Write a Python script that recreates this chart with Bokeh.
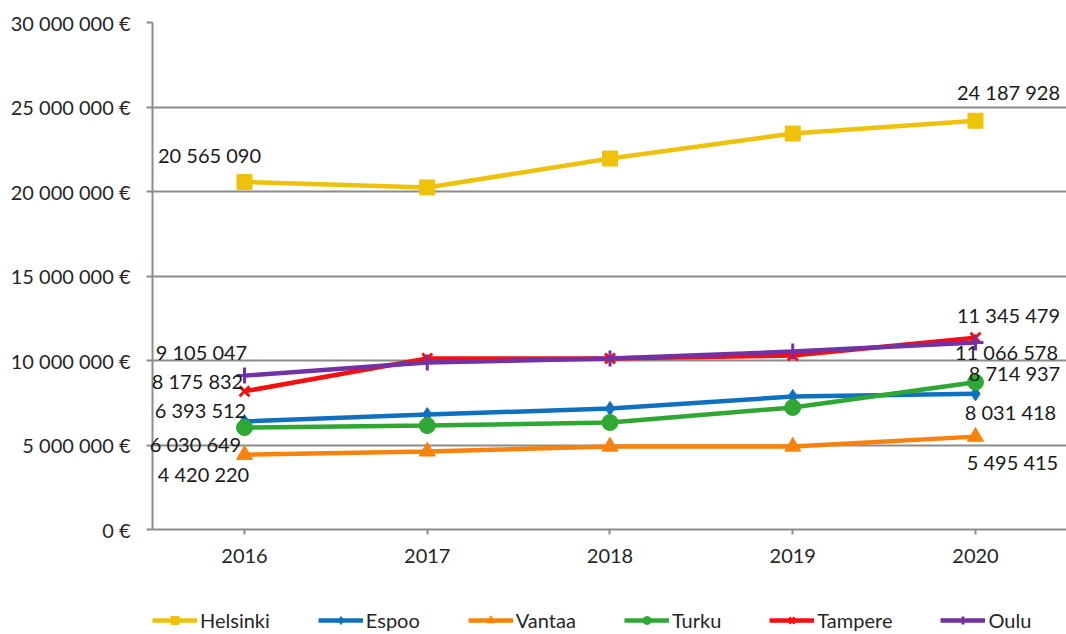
from bokeh.plotting import figure
from bokeh.layouts import column
from bokeh.models import (ColumnDataSource, Range1d, FixedTicker, CustomJSTickFormatter,
                          Legend, LegendItem)
from bokeh.core.properties import value
from bokeh.embed import file_html
from bokeh.resources import INLINE

# ---------------- data ----------------
years = [2016, 2017, 2018, 2019, 2020]
cities = ["Helsinki", "Espoo", "Vantaa", "Turku", "Tampere", "Oulu"]
helsinki = [20565090, 20240000, 21950000, 23430000, 24187928]
espoo = [6393512, 6800000, 7160000, 7870000, 8031418]
vantaa = [4420220, 4620000, 4910000, 4910000, 5495415]
turku = [6030649, 6150000, 6330000, 7220000, 8714937]
tampere = [8175832, 10120000, 10120000, 10300000, 11345479]
oulu = [9105047, 9880000, 10120000, 10530000, 11066578]
y_ticks = [0, 5000000, 10000000, 15000000, 20000000, 25000000, 30000000]

series = [helsinki, espoo, vantaa, turku, tampere, oulu]

# ---------------- styles ----------------
colors = ["#EEC10B", "#0F70C0", "#F7830E", "#2EA832", "#F50F0F", "#7232A4"]
markers = ["square", "diamond", "triangle", "circle", "x", "cross"]
msizes = [15, 14, 16, 16, 14, 16]
# label offsets (screen px) for first / last point
off_first = [(-35, -27), (-44, -11), (-41, 19), (-49, 16), (-47, -10), (-43, -24)]
off_last = [(33, -29), (35, 18), (37, 25), (39, -9), (33, -23), (31, 10)]

FONT = "Lato"
W = 1066

p = figure(width=W, height=580, output_backend="svg", toolbar_location=None,
           x_range=Range1d(2015.4966, 2020.498), y_range=Range1d(0, 30000000),
           min_border_left=152, min_border_top=22, min_border_bottom=51, min_border_right=0)
p.outline_line_color = None
p.background_fill_color = "white"
p.border_fill_color = "white"

# axes
p.xaxis.ticker = FixedTicker(ticks=years)
p.xaxis.formatter = CustomJSTickFormatter(code="return String(tick);")
p.yaxis.ticker = FixedTicker(ticks=y_ticks)
p.yaxis.formatter = CustomJSTickFormatter(
    code="return tick.toFixed(0).replace(/\\B(?=(\\d{3})+(?!\\d))/g, ' ') + ' €';")
for ax in (p.xaxis[0], p.yaxis[0]):
    ax.axis_line_color = "#8C8C8C"
    ax.axis_line_width = 2
    ax.major_tick_line_color = "#8C8C8C"
    ax.major_tick_line_width = 2
    ax.minor_tick_line_color = None
    ax.major_tick_in = 0
    ax.major_label_text_font = FONT
    ax.major_label_text_font_size = "20px"
    ax.major_label_text_color = "#262626"
p.xaxis.major_tick_out = 5
p.yaxis.major_tick_out = 6
p.xaxis.major_label_standoff = 14
p.yaxis.major_label_standoff = 16

p.xgrid.grid_line_color = None
p.ygrid.ticker = FixedTicker(ticks=y_ticks)
p.ygrid.grid_line_color = "#8C8C8C"
p.ygrid.grid_line_width = 2

# legend strip (separate small figure below the chart; frames are aligned by the column)
lg = figure(width=W, height=54, output_backend="svg", toolbar_location=None,
            x_range=Range1d(0, 1), y_range=Range1d(0, 1),
            min_border_left=0, min_border_right=0, min_border_top=0, min_border_bottom=0)
lg.axis.visible = False
lg.grid.grid_line_color = None
lg.outline_line_color = None

items = []
for name, vals, col, mk, ms in zip(cities, series, colors, markers, msizes):
    src = ColumnDataSource(dict(x=years, y=vals))
    lw = 3 if mk in ("x", "cross") else 1
    p.line("x", "y", source=src, line_color=col, line_width=4.5)
    p.scatter("x", "y", source=src, marker=mk, size=ms, fill_color=col,
              line_color=col, line_width=lw)
    # proxy renderers (same styling) living outside the legend strip's visible range
    proxy = ColumnDataSource(dict(x=[-5, -4], y=[-5, -5]))
    ln = lg.line("x", "y", source=proxy, line_color=col, line_width=4.5)
    sc = lg.scatter("x", "y", source=proxy, marker=mk, size=ms, fill_color=col,
                    line_color=col, line_width=lw)
    items.append(LegendItem(label=name, renderers=[ln, sc]))

# data labels at first and last year
for vals, o1, o2 in zip(series, off_first, off_last):
    for idx, off in ((0, o1), (len(years) - 1, o2)):
        v = vals[idx]
        txt = f"{v:,}".replace(",", " ")
        p.text(x=[years[idx]], y=[v], text=[txt], x_offset=off[0], y_offset=off[1],
               text_align="center", text_baseline="middle",
               text_font=value(FONT), text_font_size="20px", text_color="#1A1A1A",
               level="overlay")

legend = Legend(items=items, orientation="horizontal", location=(0, 2))
legend.glyph_width = 45
legend.glyph_height = 20
legend.label_standoff = 3
legend.spacing = 48
legend.padding = 0
legend.margin = 0
legend.border_line_color = None
legend.background_fill_alpha = 0
legend.label_text_font = FONT
legend.label_text_font_size = "20px"
legend.label_text_color = "#262626"
lg.add_layout(legend, "center")

layout = column(p, lg, spacing=0)
open("out.html", "w").write(file_html(layout, INLINE))
